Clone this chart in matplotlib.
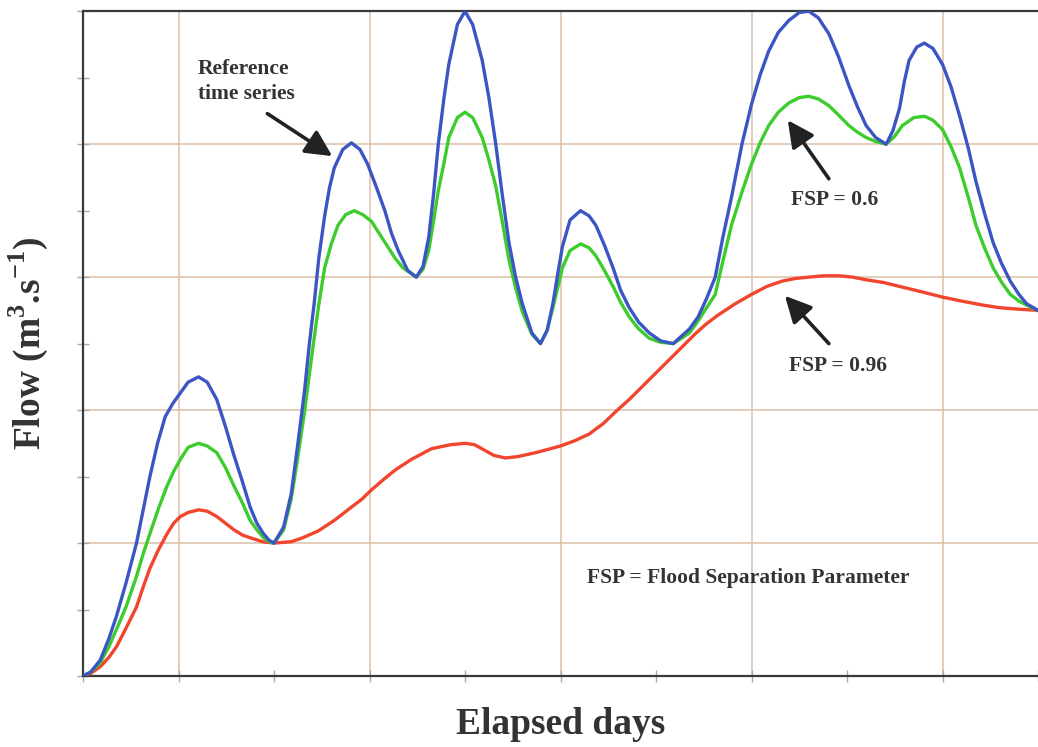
import matplotlib
matplotlib.use("Agg")
import matplotlib.pyplot as plt

plt.rcParams["mathtext.fontset"] = "custom"
plt.rcParams["mathtext.rm"] = "Liberation Serif"
plt.rcParams["mathtext.bf"] = "Liberation Serif:bold"

# values (x in tick units, y in grid units)
ref_x = [0.0, 0.08, 0.18, 0.27, 0.35, 0.45, 0.56, 0.63, 0.70, 0.78, 0.86, 0.94, 1.02, 1.1,
         1.21, 1.3, 1.40, 1.49, 1.58, 1.67, 1.75, 1.82, 1.89, 1.95, 2.0, 2.1, 2.18, 2.25,
         2.32, 2.37, 2.42, 2.47, 2.53, 2.58, 2.63, 2.72, 2.81, 2.9, 2.98, 3.07, 3.16, 3.23,
         3.30, 3.40, 3.49, 3.56, 3.62, 3.67, 3.72, 3.78, 3.83, 3.92, 4.0, 4.08, 4.18, 4.25,
         4.32, 4.39, 4.46, 4.53, 4.60, 4.70, 4.79, 4.86, 4.92, 4.97, 5.02, 5.1, 5.21, 5.3,
         5.37, 5.46, 5.55, 5.63, 5.72, 5.82, 5.93, 6.05, 6.18, 6.35, 6.44, 6.53, 6.62, 6.70,
         6.79, 6.90, 7.0, 7.09, 7.18, 7.28, 7.39, 7.5, 7.6, 7.7, 7.81, 7.91, 8.02, 8.11,
         8.2, 8.3, 8.41, 8.48, 8.55, 8.6, 8.65, 8.73, 8.81, 8.9, 9.0, 9.09, 9.18, 9.27,
         9.35, 9.44, 9.53, 9.62, 9.71, 9.8, 9.88, 10.0]
ref_y = [0.0, 0.03, 0.12, 0.28, 0.45, 0.7, 1.0, 1.25, 1.5, 1.75, 1.95, 2.05, 2.13, 2.21,
         2.25, 2.21, 2.08, 1.88, 1.66, 1.46, 1.27, 1.15, 1.07, 1.02, 1.0, 1.12, 1.37, 1.75,
         2.15, 2.5, 2.8, 3.15, 3.46, 3.67, 3.82, 3.96, 4.01, 3.96, 3.85, 3.68, 3.5, 3.33,
         3.2, 3.05, 3.0, 3.08, 3.3, 3.62, 4.0, 4.35, 4.6, 4.9, 5.0, 4.9, 4.63, 4.35,
         4.01, 3.62, 3.26, 3.0, 2.8, 2.58, 2.5, 2.6, 2.8, 3.02, 3.23, 3.43, 3.5, 3.46,
         3.39, 3.24, 3.07, 2.9, 2.77, 2.66, 2.58, 2.52, 2.5, 2.61, 2.7, 2.84, 3.0, 3.3,
         3.6, 4.0, 4.3, 4.52, 4.7, 4.84, 4.93, 4.99, 5.0, 4.95, 4.83, 4.66, 4.44, 4.28,
         4.14, 4.05, 4.0, 4.1, 4.27, 4.47, 4.63, 4.73, 4.76, 4.72, 4.6, 4.43, 4.21, 3.97,
         3.72, 3.48, 3.26, 3.1, 2.97, 2.87, 2.8, 2.75]

fsp06_x = [0.0, 0.08, 0.18, 0.27, 0.35, 0.45, 0.56, 0.63, 0.70, 0.79, 0.88, 0.95, 1.02, 1.1,
           1.21, 1.3, 1.40, 1.49, 1.58, 1.67, 1.75, 1.82, 1.89, 1.95, 2.0, 2.1, 2.18, 2.25,
           2.32, 2.37, 2.42, 2.47, 2.53, 2.6, 2.67, 2.75, 2.84, 2.93, 3.02, 3.1, 3.19, 3.27,
           3.35, 3.49, 3.56, 3.62, 3.67, 3.72, 3.78, 3.83, 3.92, 4.0, 4.08, 4.18, 4.25, 4.32,
           4.39, 4.46, 4.53, 4.60, 4.70, 4.79, 4.86, 4.92, 4.97, 5.02, 5.1, 5.21, 5.3, 5.37,
           5.46, 5.55, 5.63, 5.72, 5.82, 5.93, 6.05, 6.18, 6.35, 6.44, 6.53, 6.62, 6.7, 6.79,
           6.9, 7.0, 7.09, 7.18, 7.28, 7.39, 7.5, 7.6, 7.7, 7.81, 7.91, 8.02, 8.11, 8.2,
           8.3, 8.41, 8.5, 8.58, 8.7, 8.81, 8.9, 9.0, 9.09, 9.18, 9.27, 9.35, 9.44, 9.53,
           9.62, 9.71, 9.8, 9.88, 10.0]
fsp06_y = [0.0, 0.03, 0.1, 0.22, 0.35, 0.52, 0.75, 0.92, 1.07, 1.26, 1.43, 1.54, 1.63, 1.72,
           1.75, 1.73, 1.68, 1.57, 1.43, 1.3, 1.17, 1.1, 1.04, 1.01, 1.0, 1.1, 1.33, 1.65,
           1.99, 2.27, 2.54, 2.8, 3.07, 3.25, 3.39, 3.47, 3.5, 3.47, 3.42, 3.33, 3.23, 3.14,
           3.07, 3.0, 3.06, 3.2, 3.42, 3.65, 3.86, 4.05, 4.2, 4.24, 4.2, 4.05, 3.88, 3.69,
           3.42, 3.13, 2.92, 2.74, 2.57, 2.5, 2.6, 2.77, 2.92, 3.07, 3.2, 3.25, 3.22, 3.16,
           3.05, 2.93, 2.81, 2.7, 2.61, 2.54, 2.51, 2.5, 2.58, 2.67, 2.77, 2.87, 3.12, 3.39,
           3.64, 3.85, 4.01, 4.14, 4.24, 4.31, 4.35, 4.36, 4.34, 4.29, 4.22, 4.14, 4.09, 4.05,
           4.02, 4.0, 4.06, 4.14, 4.2, 4.21, 4.18, 4.11, 3.98, 3.82, 3.6, 3.39, 3.22, 3.07,
           2.96, 2.87, 2.82, 2.79, 2.75]

fsp096_x = [0.0, 0.08, 0.18, 0.27, 0.35, 0.45, 0.56, 0.63, 0.70, 0.79, 0.88, 0.95, 1.02, 1.1,
            1.21, 1.3, 1.40, 1.49, 1.58, 1.67, 1.75, 1.88, 2.0, 2.18, 2.3, 2.46, 2.63, 2.81,
            2.92, 3.02, 3.15, 3.27, 3.44, 3.65, 3.85, 4.0, 4.1, 4.2, 4.3, 4.42, 4.55, 4.74,
            5.0, 5.15, 5.3, 5.45, 5.58, 5.72, 5.86, 6.0, 6.14, 6.28, 6.42, 6.53, 6.64, 6.83,
            7.0, 7.16, 7.32, 7.46, 7.6, 7.76, 7.92, 8.06, 8.2, 8.38, 8.55, 8.78, 9.0, 9.2,
            9.42, 9.6, 9.78, 10.0]
fsp096_y = [0.0, 0.02, 0.07, 0.14, 0.22, 0.36, 0.52, 0.67, 0.81, 0.95, 1.07, 1.15, 1.2, 1.23,
            1.25, 1.24, 1.2, 1.15, 1.1, 1.06, 1.04, 1.01, 1.0, 1.01, 1.04, 1.09, 1.17, 1.27,
            1.33, 1.4, 1.48, 1.55, 1.63, 1.71, 1.74, 1.75, 1.74, 1.7, 1.66, 1.64, 1.65, 1.68,
            1.73, 1.77, 1.82, 1.9, 1.99, 2.08, 2.18, 2.28, 2.38, 2.48, 2.58, 2.65, 2.71, 2.8,
            2.87, 2.93, 2.97, 2.99, 3.0, 3.01, 3.01, 3.0, 2.98, 2.96, 2.93, 2.89, 2.85, 2.82,
            2.79, 2.77, 2.76, 2.75]

serif = ["Liberation Serif", "DejaVu Serif"]
txt = "#333333"

fig = plt.figure(figsize=(10.38, 7.47), dpi=100)
ax = fig.add_axes([0.080, 0.095, 0.920, 0.890])

ax.plot(fsp096_x, fsp096_y, color="#f2452e", lw=2.4, solid_joinstyle="round", zorder=3)
ax.plot(fsp06_x, fsp06_y, color="#3ccc2c", lw=2.4, solid_joinstyle="round", zorder=4)
ax.plot(ref_x, ref_y, color="#3b56c4", lw=2.4, solid_joinstyle="round", zorder=5)

ax.set_xlim(0, 10)
ax.set_ylim(0, 5)
ax.set_xticks([1, 3, 5, 7, 9])
ax.set_xticks([0, 2, 4, 6, 8, 10], minor=True)
ax.set_yticks([0, 1, 2, 3, 4, 5])
ax.set_yticks([0.5, 1.5, 2.5, 3.5, 4.5], minor=True)
ax.set_xticklabels([])
ax.set_yticklabels([])
ax.tick_params(which="both", direction="inout", length=9, width=1, color="#aaaaaa")
ax.grid(True, which="major", color="#dcbfa6", lw=1.1)
ax.set_axisbelow(True)

for side in ["left", "bottom", "top"]:
    ax.spines[side].set_color("#3a3a3a")
    ax.spines[side].set_linewidth(1.6)
ax.spines["right"].set_visible(False)

ax.set_xlabel("Elapsed days", family=serif, fontweight="bold", fontsize=27, color=txt, labelpad=14)
ax.set_ylabel(r"Flow (m$^{\mathbf{3}}$.s$^{\mathbf{-1}}$)", family=serif, fontweight="bold",
              fontsize=27, color=txt, labelpad=16)

arrow = dict(arrowstyle="-|>", mutation_scale=40, lw=2.6, color="#222222",
             shrinkA=0, shrinkB=0)
ax.annotate("", xy=(2.61, 3.91), xytext=(1.93, 4.23), arrowprops=arrow)
ax.annotate("", xy=(7.38, 4.18), xytext=(7.81, 3.74), arrowprops=arrow)
ax.annotate("", xy=(7.35, 2.86), xytext=(7.81, 2.50), arrowprops=arrow)

ax.text(1.20, 4.47, "Reference\ntime series", family=serif, fontweight="bold",
        fontsize=15.5, color=txt, ha="left", va="center", linespacing=1.3)
ax.text(7.41, 3.58, "FSP = 0.6", family=serif, fontweight="bold", fontsize=15.5,
        color=txt, ha="left", va="center")
ax.text(7.39, 2.33, "FSP = 0.96", family=serif, fontweight="bold", fontsize=15.5,
        color=txt, ha="left", va="center")
ax.text(5.28, 0.74, "FSP = Flood Separation Parameter", family=serif, fontweight="bold",
        fontsize=15.5, color=txt, ha="left", va="center")

fig.savefig("out.png", dpi=100)
